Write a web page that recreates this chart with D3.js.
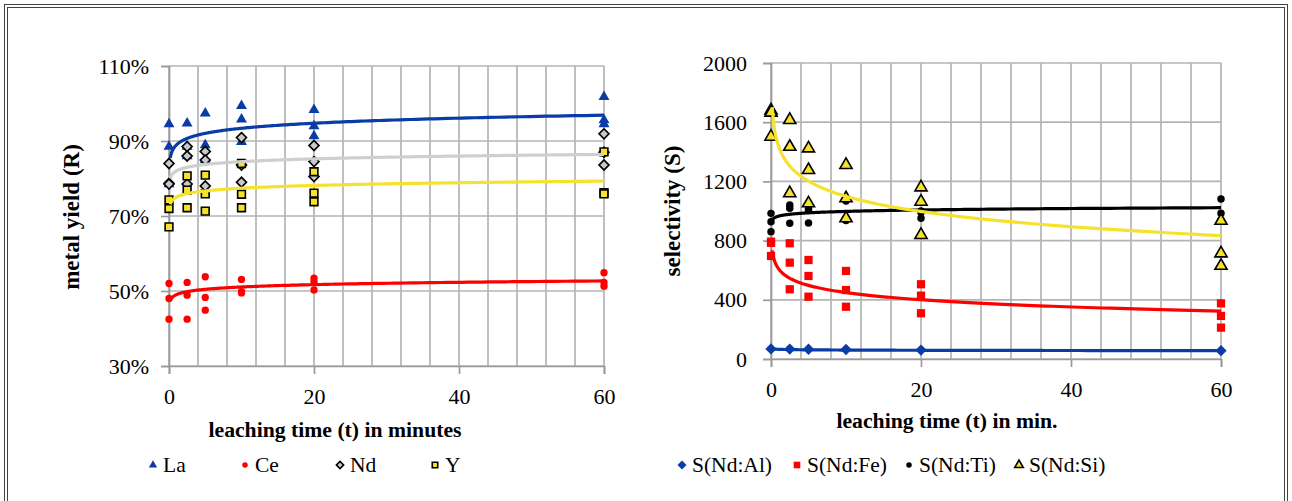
<!DOCTYPE html>
<html>
<head>
<meta charset="utf-8">
<script src="https://cdn.jsdelivr.net/npm/d3@7"></script>
<style>
body{margin:0;background:#fff;}
svg{display:block;font-family:"Liberation Serif","Times New Roman",serif;}
text{font-family:"Liberation Serif","Times New Roman",serif;fill:#000;}
</style>
</head>
<body>
<svg id="chart" width="1292" height="501"></svg>
<script>
'use strict'

// sampling times (min), replicates per time
var times = [0, 2.5, 5, 10, 20, 60];
var trendStart = 0.17;
var timeTicks = [0, 20, 40, 60];
var gridTimes = [0, 4, 8, 12, 16, 20, 24, 28, 32, 36, 40, 44, 48, 52, 56, 60];

// left panel: metal yield (%)
var yieldTicks = [30, 50, 70, 90, 110];
var la = [[94.5, 88.5, 78.5], [94.7, 88.5, 86], [97.4, 88.9, 85], [99.4, 95.8, 89.8], [98.3, 94, 91.3], [101.8, 95.6, 94.5]];
var ce = [[52, 48, 42.5], [52.3, 48.9, 42.5], [53.8, 48.3, 44.9], [53.1, 49.5, 49.8], [53.4, 52.5, 50.3], [54.9, 52.3, 51.3]];
var nd = [[84, 78.7, 78.5], [88.5, 86, 78.5], [87.2, 84.9, 78], [90.9, 83.6, 79], [88.8, 84.5, 80.5], [91.9, 87, 83.6]];
var yt = [[74.3, 72, 67.1], [80.7, 76.9, 72.2], [80.9, 75.9, 71.3], [84, 75.8, 72.2], [81.8, 76.1, 73.8], [87.1, 76.2, 75.9]];
// log trendlines y = a + b*ln(t)
var laTrend = [88.9, 1.95];
var ceTrend = [49.0, 0.9];
var ndTrend = [82.0, 1.08];
var ytTrend = [75.0, 1.05];

// right panel: selectivity
var selTicks = [0, 400, 800, 1200, 1600, 2000];
var al = [[68], [67], [66], [64], [60], [56]];
var fe = [[793, 785, 696], [782, 651, 471], [669, 561, 421], [595, 466, 353], [505, 428, 309], [376, 291, 212]];
var ti = [[984, 928, 860], [1041, 1018, 917], [1018, 1005, 919], [1068, 950, 935], [1000, 990, 951], [1081, 985, 940]];
var si = [[1680, 1665, 1502], [1615, 1434, 1120], [1423, 1277, 1052], [1311, 1086, 951], [1160, 1063, 838], [934, 714, 630]];
var alTrend = [65.5, -2.2];
var feTrend = [610, -70];
var tiTrend = [965, 14];
var siTrend = [1440, -148];

var svg = d3.select('#chart');
var font = '"Liberation Serif", "Times New Roman", serif';
var gridCol = '#b4b4b4';
var blue = '#0a3ca6', red = '#ff0000', gray = '#cfcfcf', yellow = '#f6e22c';

// frame
svg.append('rect').attr('x', 4.5).attr('y', 4.5).attr('width', 1283).attr('height', 520)
	.attr('fill', 'none').attr('stroke', '#444').attr('stroke-width', 1);
svg.append('rect').attr('x', 7.5).attr('y', 7.5).attr('width', 1277).attr('height', 520)
	.attr('fill', 'none').attr('stroke', '#444').attr('stroke-width', 1);

function markerPath(type, size){
	var sym = {tri: d3.symbolTriangle, circ: d3.symbolCircle, sq: d3.symbolSquare, dia: d3.symbolSquare}[type];
	return d3.symbol().type(sym).size(size)();
}

function drawPanel(p){
	var g = svg.append('g');
	var x = d3.scaleLinear().domain([0, 60]).range(p.xr);
	var y = d3.scaleLinear().domain(p.yd).range(p.yr);

	// vertical grid
	g.selectAll('.vg').data(gridTimes).enter().append('line')
		.attr('x1', d => x(d)).attr('x2', d => x(d))
		.attr('y1', p.yr[1]).attr('y2', p.yr[0])
		.attr('stroke', gridCol).attr('stroke-width', 1.7);
	// horizontal grid
	g.selectAll('.hg').data(p.ticks).enter().append('line')
		.attr('x1', p.xr[0]).attr('x2', p.xr[1])
		.attr('y1', d => y(d)).attr('y2', d => y(d))
		.attr('stroke', gridCol).attr('stroke-width', 1.7);

	var ya = g.append('g').attr('transform', 'translate(' + p.xr[0] + ',0)')
		.call(d3.axisLeft(y).tickValues(p.ticks).tickSize(8).tickPadding(p.pad).tickFormat(p.fmt));
	var xa = g.append('g').attr('transform', 'translate(0,' + p.yr[0] + ')')
		.call(d3.axisBottom(x).tickValues(timeTicks).tickSize(8).tickPadding(14).tickFormat(d3.format('d')));
	[ya, xa].forEach(function(a){
		a.attr('font-family', font).attr('font-size', 22);
		a.select('.domain').attr('stroke', '#9a9a9a').attr('stroke-width', 1.7);
		a.selectAll('.tick line').attr('stroke', '#9a9a9a').attr('stroke-width', 1.7);
		a.selectAll('.tick text').attr('fill', '#000');
	});

	// markers
	p.series.forEach(function(s){
		var pts = [];
		s.data.forEach(function(reps, i){
			reps.forEach(function(v){ pts.push([times[i], v]); });
		});
		g.selectAll(null).data(pts).enter().append('path')
			.attr('d', markerPath(s.shape, s.size))
			.attr('transform', d => 'translate(' + x(d[0]) + ',' + y(d[1]) + ')' + (s.shape == 'dia' ? ' rotate(45)' : ''))
			.attr('fill', s.fill).attr('stroke', s.stroke || 'none').attr('stroke-width', s.sw || 0);
	});

	// trendlines
	var ts = d3.range(0, 1.0001, 0.004).map(u => trendStart * Math.pow(60 / trendStart, u));
	var line = d3.line().x(d => x(d[0])).y(d => y(d[1]));
	p.series.forEach(function(s){
		var pts = ts.map(t => [t, s.trend[0] + s.trend[1] * Math.log(t)]);
		g.append('path').attr('d', line(pts)).attr('fill', 'none')
			.attr('stroke', s.line).attr('stroke-width', 3.2);
	});

	// axis titles
	g.append('text').attr('x', p.xt[0]).attr('y', p.xt[1]).attr('text-anchor', 'middle')
		.attr('font-family', font).style('font-weight', 'bold').style('font-size', '21.7px').text(p.xtitle);
	g.append('text').attr('transform', 'translate(' + p.yt[0] + ',' + p.yt[1] + ') rotate(-90)')
		.attr('text-anchor', 'middle').attr('font-family', font)
		.style('font-weight', 'bold').style('font-size', '23px').text(p.ytitle);

	// legend
	p.series.forEach(function(s, i){
		var lx = p.legend[i];
		g.append('path').attr('d', markerPath(s.shape, s.lsize))
			.attr('transform', 'translate(' + lx + ',465)' + (s.shape == 'dia' ? ' rotate(45)' : ''))
			.attr('fill', s.fill).attr('stroke', s.stroke || 'none').attr('stroke-width', s.sw || 0);
		g.append('text').attr('x', lx + 10).attr('y', 472).attr('font-family', font)
			.style('font-size', '21.5px').text(s.name);
	});
}

drawPanel({
	xr: [169, 604], yd: [30, 110], yr: [366, 66], ticks: yieldTicks, pad: 12,
	fmt: d => d + '%',
	xtitle: 'leaching time (t) in minutes', xt: [335, 437],
	ytitle: 'metal yield (R)', yt: [79, 217],
	legend: [153, 245, 340, 435],
	series: [
		{name: 'La', data: la, trend: laTrend, shape: 'tri', size: 52, lsize: 30, fill: blue, line: blue},
		{name: 'Ce', data: ce, trend: ceTrend, shape: 'circ', size: 42, lsize: 24, fill: red, line: red},
		{name: 'Nd', data: nd, trend: ndTrend, shape: 'dia', size: 50, lsize: 26, fill: '#c8c8c8', stroke: '#000', sw: 1.6, line: gray},
		{name: 'Y', data: yt, trend: ytTrend, shape: 'sq', size: 60, lsize: 30, fill: yellow, stroke: '#000', sw: 1.6, line: yellow}
	]
});

drawPanel({
	xr: [771, 1221], yd: [0, 2000], yr: [359, 63], ticks: selTicks, pad: 16,
	fmt: d3.format('d'),
	xtitle: 'leaching time (t) in min.', xt: [947, 428],
	ytitle: 'selectivity (S)', yt: [680, 211],
	legend: [682, 797, 909, 1019],
	series: [
		{name: 'S(Nd:Al)', data: al, trend: alTrend, shape: 'dia', size: 64, lsize: 40, fill: blue, line: blue},
		{name: 'S(Nd:Fe)', data: fe, trend: feTrend, shape: 'sq', size: 68, lsize: 44, fill: red, line: red},
		{name: 'S(Nd:Ti)', data: ti, trend: tiTrend, shape: 'circ', size: 44, lsize: 24, fill: '#000', line: '#000'},
		{name: 'S(Nd:Si)', data: si, trend: siTrend, shape: 'tri', size: 64, lsize: 32, fill: yellow, stroke: '#000', sw: 1.6, line: yellow}
	]
});
</script>
</body>
</html>
